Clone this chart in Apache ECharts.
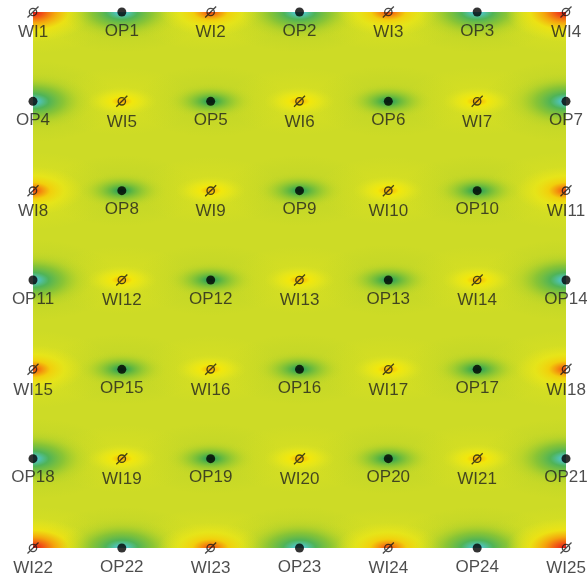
<!DOCTYPE html>
<html>
<head>
<meta charset="utf-8">
<script src="https://cdn.jsdelivr.net/npm/echarts@6/dist/echarts.min.js"></script>
<style>html,body{margin:0;padding:0;background:#fff;}#c{width:587px;height:578px;}</style>
</head>
<body>
<div id="c"></div>
<script>
// Well names laid out on the 7x7 pattern (row 0 = top)
const wellGrid = [
  ['WI1','OP1','WI2','OP2','WI3','OP3','WI4'],
  ['OP4','WI5','OP5','WI6','OP6','WI7','OP7'],
  ['WI8','OP8','WI9','OP9','WI10','OP10','WI11'],
  ['OP11','WI12','OP12','WI13','OP13','WI14','OP14'],
  ['WI15','OP15','WI16','OP16','WI17','OP17','WI18'],
  ['OP18','WI19','OP19','WI20','OP20','WI21','OP21'],
  ['WI22','OP22','WI23','OP23','WI24','OP24','WI25']
];
// Relative intensity of the pressure anomaly around each well
const wellStrength = [
  [1.0, 0.9, 0.8, 0.9, 0.8, 0.9, 1.0],
  [0.9, 0.45, 0.55, 0.45, 0.55, 0.45, 0.9],
  [0.8, 0.55, 0.45, 0.55, 0.45, 0.55, 0.8],
  [0.9, 0.45, 0.55, 0.45, 0.55, 0.45, 0.9],
  [0.8, 0.55, 0.45, 0.55, 0.45, 0.55, 0.8],
  [0.9, 0.45, 0.55, 0.45, 0.55, 0.45, 0.9],
  [1.0, 0.95, 0.85, 0.95, 0.85, 0.95, 1.0]
];

const wiData = [], opData = [], haloData = [];
wellGrid.forEach((row, r) => row.forEach((name, c) => {
  const isWI = name.indexOf('WI') === 0;
  const item = {name: name, value: [c, r]};
  (isWI ? wiData : opData).push(item);
  haloData.push({name: name, value: [c, r, wellStrength[r][c], isWI ? 1 : 0]});
}));

function wiStops(s) {
  if (s >= 0.95) return [[0,'rgba(226,20,28,1)'],[0.16,'rgba(240,80,22,1)'],[0.36,'rgba(246,160,12,0.95)'],[0.6,'rgba(242,226,16,0.8)'],[0.85,'rgba(236,230,24,0.3)'],[1,'rgba(230,228,30,0)']];
  if (s >= 0.75) return [[0,'rgba(236,64,22,1)'],[0.14,'rgba(244,130,14,1)'],[0.34,'rgba(244,205,10,0.9)'],[0.62,'rgba(240,232,20,0.6)'],[0.85,'rgba(236,230,24,0.22)'],[1,'rgba(230,228,30,0)']];
  return [[0,'rgba(240,150,16,1)'],[0.1,'rgba(246,192,8,1)'],[0.3,'rgba(244,232,10,0.92)'],[0.58,'rgba(240,234,20,0.55)'],[0.82,'rgba(232,232,26,0.2)'],[1,'rgba(228,230,30,0)']];
}
function opStops(s) {
  if (s >= 0.85) return [[0,'rgba(120,215,240,1)'],[0.09,'rgba(80,196,190,1)'],[0.26,'rgba(68,176,92,0.9)'],[0.5,'rgba(110,188,60,0.68)'],[0.76,'rgba(160,204,46,0.28)'],[1,'rgba(190,214,40,0)']];
  return [[0,'rgba(22,144,105,1)'],[0.09,'rgba(44,162,88,0.95)'],[0.26,'rgba(80,178,68,0.8)'],[0.5,'rgba(124,194,54,0.55)'],[0.76,'rgba(165,206,44,0.22)'],[1,'rgba(195,216,40,0)']];
}

function clipOf(params) {
  const cs = params.coordSys;
  return {type:'rect', shape:{x:cs.x, y:cs.y, width:cs.width, height:cs.height}};
}

// Elliptic halo: a circle of radius ry with a radial gradient, stretched horizontally
function halo(p, rx, ry, stops) {
  return {type:'circle', x:p[0], y:p[1], scaleX: rx / ry, scaleY: 1,
    shape:{cx:0, cy:0, r:ry},
    style:{fill:{type:'radial', x:0.5, y:0.5, r:0.5,
      colorStops: stops.map(a => ({offset:a[0], color:a[1]}))}}};
}

function broadHalo(params, api) {
  const p = api.coord([api.value(0), api.value(1)]);
  const s = api.value(2), wi = api.value(3) === 1;
  const col = wi ? '236,232,24' : '168,204,44';
  const a = 0.45 * s + 0.15;
  return {type:'group', clipPath: clipOf(params),
    children:[halo(p, 62 + 25 * s, 28 + 14 * s,
      [[0,'rgba(' + col + ',' + a + ')'],[1,'rgba(' + col + ',0)']])]};
}
function innerHalo(params, api) {
  const p = api.coord([api.value(0), api.value(1)]);
  const s = api.value(2), wi = api.value(3) === 1;
  let el;
  if (wi) el = halo(p, 15 + 45 * s, 2 + 28 * s, wiStops(s));
  else el = halo(p, 20 + 45 * s, 2 + 30 * s, opStops(s));
  return {type:'group', clipPath: clipOf(params), children:[el]};
}

const labelStyle = {show:true, position:'bottom', distance:6, formatter:'{b}',
  fontSize:17, fontFamily:'Arial, "Liberation Sans", sans-serif', color:'#1f1f1f'};

const chart = echarts.init(document.getElementById('c'));
chart.setOption({
  animation:false,
  backgroundColor:'#ffffff',
  grid:{left:33, right:21, top:12, bottom:30, show:true, backgroundColor:'#cddb26', borderWidth:0},
  xAxis:{type:'value', min:0, max:6, show:false},
  yAxis:{type:'value', min:0, max:6, inverse:true, show:false},
  series:[
    {type:'custom', renderItem:broadHalo, data:haloData, silent:true, z:1},
    {type:'custom', renderItem:innerHalo, data:haloData, silent:true, z:2},
    {type:'scatter', data:opData, symbol:'circle', symbolSize:9,
      itemStyle:{color:'#000'}, label:labelStyle, z:5},
    {type:'scatter', data:wiData,
      symbol:'path://M4,10A6,6 0 1,1 16,10A6,6 0 1,1 4,10Z M1,19L19,1',
      symbolSize:11, itemStyle:{color:'rgba(0,0,0,0)', borderColor:'#1a1a1a', borderWidth:1.3},
      label:labelStyle, z:5}
  ]
});
</script>
</body>
</html>
